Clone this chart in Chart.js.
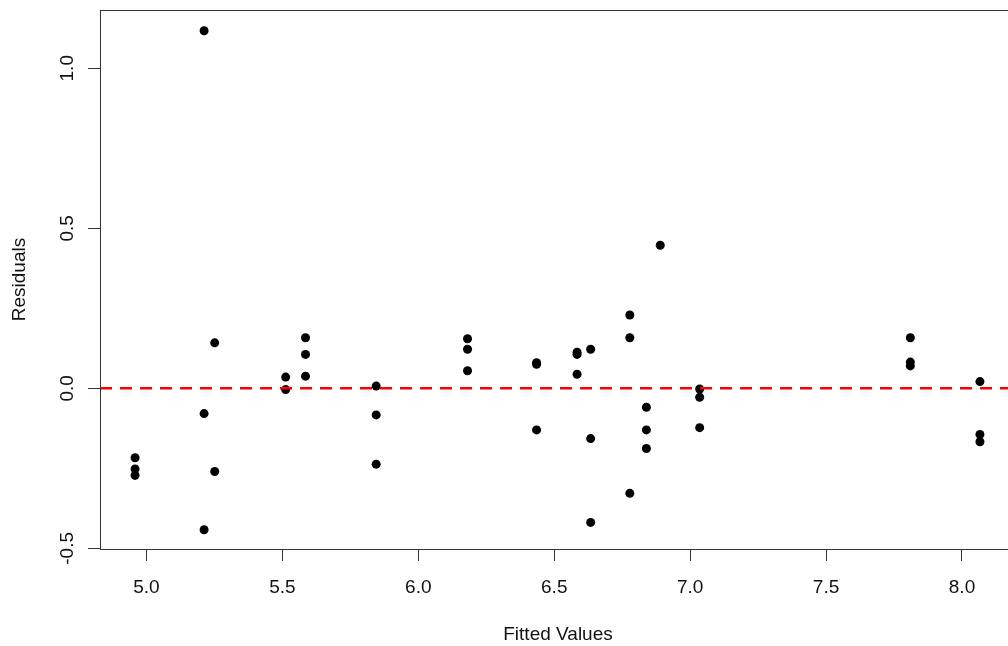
<!DOCTYPE html>
<html>
<head>
<meta charset="utf-8">
<script src="https://cdn.jsdelivr.net/npm/chart.js@4"></script>
<style>
  html, body { margin: 0; padding: 0; background: #fff; overflow: hidden; }
  #wrap { width: 1016px; height: 646px; }
</style>
</head>
<body>
<div id="wrap"><canvas id="residChart" width="1016" height="646"></canvas></div>
<script>
// Fitted values (x) and residuals (y)
const fitted = [4.958, 4.958, 4.958, 5.212, 5.212, 5.212, 5.251, 5.251, 5.512, 5.512,
    5.585, 5.585, 5.585, 5.845, 5.845, 5.845, 6.181, 6.181, 6.181, 6.435, 6.435, 6.435,
    6.584, 6.584, 6.584, 6.634, 6.634, 6.634, 6.778, 6.778, 6.778, 6.839, 6.839, 6.839,
    6.890, 7.035, 7.035, 7.035, 7.810, 7.810, 7.810, 8.066, 8.066, 8.066];
const residuals = [-0.217, -0.252, -0.272, 1.117, -0.079, -0.442, 0.142, -0.260, 0.035, -0.004,
    0.158, 0.106, 0.038, 0.007, -0.083, -0.237, 0.155, 0.122, 0.055, 0.080, 0.075, -0.130,
    0.113, 0.106, 0.044, 0.122, -0.157, -0.419, 0.229, 0.158, -0.328, -0.059, -0.130, -0.188,
    0.447, -0.002, -0.028, -0.123, 0.158, 0.082, 0.070, 0.021, -0.144, -0.167];

const xTicks = [5.0, 5.5, 6.0, 6.5, 7.0, 7.5, 8.0];
const yTicks = [-0.5, 0.0, 0.5, 1.0];
const xRange = [4.829, 8.195];
const yRange = [-0.502, 1.182];
const refLine = 0;

const FONT = '19px "Liberation Sans", Arial, sans-serif';
const TEXT = '#111';
const AXIS = '#333';

const points = fitted.map((x, i) => ({ x: x, y: residuals[i] }));

// Box, tick labels and axis titles drawn R-style
const rStylePlugin = {
    id: 'rStyle',
    afterDraw(chart) {
        const ctx = chart.ctx;
        const area = chart.chartArea;
        const xs = chart.scales.x;
        const ys = chart.scales.y;
        ctx.save();
        ctx.strokeStyle = AXIS;
        ctx.lineWidth = 1;
        ctx.strokeRect(area.left + 0.5, area.top + 0.5, area.right - area.left, area.bottom - area.top);

        ctx.fillStyle = TEXT;
        ctx.font = FONT;
        ctx.textAlign = 'center';
        ctx.textBaseline = 'alphabetic';
        xTicks.forEach(v => {
            ctx.fillText(v.toFixed(1), xs.getPixelForValue(v), 593);
        });
        ctx.fillText('Fitted Values', 558, 640);

        yTicks.forEach(v => {
            ctx.save();
            ctx.translate(72.5, ys.getPixelForValue(v));
            ctx.rotate(-Math.PI / 2);
            ctx.fillText(v.toFixed(1), 0, 0);
            ctx.restore();
        });
        ctx.save();
        ctx.translate(25, (area.top + area.bottom) / 2);
        ctx.rotate(-Math.PI / 2);
        ctx.fillText('Residuals', 0, 0);
        ctx.restore();
        ctx.restore();
    }
};

const ctx = document.getElementById('residChart').getContext('2d');
new Chart(ctx, {
    type: 'scatter',
    data: {
        datasets: [
            {
                type: 'line',
                data: [{ x: xRange[0], y: refLine }, { x: xRange[1], y: refLine }],
                borderColor: '#ff0000',
                borderWidth: 2.5,
                borderDash: [12, 8],
                pointRadius: 0,
                fill: false,
                order: 0
            },
            {
                data: points,
                backgroundColor: '#000',
                borderColor: '#000',
                borderWidth: 0,
                pointRadius: 4.5,
                order: 1
            }
        ]
    },
    options: {
        responsive: false,
        animation: false,
        devicePixelRatio: 1,
        layout: { autoPadding: false, padding: { top: 10, right: 1, left: 0, bottom: 0 } },
        plugins: {
            legend: { display: false },
            tooltip: { enabled: false }
        },
        scales: {
            x: {
                type: 'linear',
                min: xRange[0],
                max: xRange[1],
                afterBuildTicks: scale => { scale.ticks = xTicks.map(v => ({ value: v })); },
                afterFit: scale => { scale.height = 97; },
                ticks: { display: false },
                border: { display: false },
                grid: { drawOnChartArea: false, drawTicks: true, tickLength: 12, color: AXIS, lineWidth: 1 }
            },
            y: {
                type: 'linear',
                min: yRange[0],
                max: yRange[1],
                afterBuildTicks: scale => { scale.ticks = yTicks.map(v => ({ value: v })); },
                afterFit: scale => { scale.width = 100; },
                ticks: { display: false },
                border: { display: false },
                grid: { drawOnChartArea: false, drawTicks: true, tickLength: 12, color: AXIS, lineWidth: 1 }
            }
        }
    },
    plugins: [rStylePlugin]
});
</script>
</body>
</html>
